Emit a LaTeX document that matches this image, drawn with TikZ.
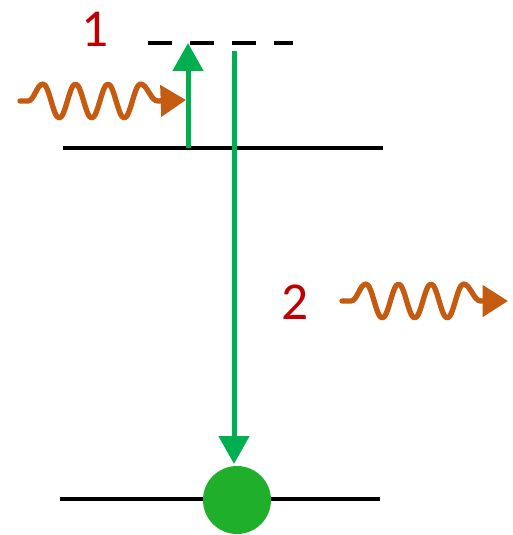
\documentclass[tikz,border=0pt]{standalone}
\usepackage{fontspec}
\setmainfont{Carlito}
\usetikzlibrary{arrows.meta}

\definecolor{levelgreen}{HTML}{00B050}
\definecolor{dotgreen}{HTML}{1FAF2A}
\definecolor{photon}{HTML}{C55A11}
\definecolor{labelred}{HTML}{C00000}

\tikzset{
  level/.style={line width=3pt},
  virtual/.style={line width=3pt, dash pattern=on 17.75pt off 13.75pt},
  transition/.style={levelgreen, line width=3.75pt, -{Triangle[length=21pt,width=22.5pt]}},
  photonwave/.style={photon, line width=4pt, line cap=round, line join=round,
    -{Triangle[length=19pt,width=23pt]}},
  halfwave/.style={out=0, in=180, looseness=0.42},
  quarterwave/.style={out=0, in=180, looseness=0.7},
  steplabel/.style={text=labelred, font=\fontsize{40}{40}\selectfont, inner sep=0pt}
}

\begin{document}
\begin{tikzpicture}[x=0.75pt,y=-0.75pt]
\useasboundingbox (0,0) rectangle (512,535);

        % ===================================================
        % Energy levels
        % ===================================================
        \coordinate (V1) at (148,43);
        \coordinate (V2) at (293,43);
        \coordinate (E1a) at (63,148);
        \coordinate (E1b) at (383,148);
        \coordinate (E0a) at (60,499);
        \coordinate (E0b) at (380,499);
        \draw[virtual] (V1) -- (V2);
        \draw[level] (E1a) -- (E1b);
        \draw[level] (E0a) -- (E0b);

        % ===================================================
        % Transitions
        % ===================================================
        \node[circle, fill=dotgreen, minimum size=51pt, inner sep=0pt] (dot) at (237,500) {};
        \coordinate (upfoot) at (188,148);
        \coordinate (uptip) at (188,43);
        \coordinate (downtop) at (234,51);
        \coordinate (downtip) at (234,464);
        \draw[transition] (upfoot) -- (uptip);
        \draw[transition] (downtop) -- (downtip);

        % ===================================================
        % Photons and labels
        % ===================================================
        \coordinate (in1) at (20,101);
        \coordinate (in2) at (186,100);
        \coordinate (out1) at (342,301);
        \coordinate (out2) at (508,301);
        % incoming photon
        \draw[photonwave] (in1) -- ++(8,0)
            to[quarterwave] ++(15,-17)
            to[halfwave] ++(16.25,34) to[halfwave] ++(16.25,-34)
            to[halfwave] ++(16.25,34) to[halfwave] ++(16.25,-34)
            to[halfwave] ++(16.25,34) to[halfwave] ++(16.25,-34)
            to[quarterwave] ++(17,17) -- (in2);
        % outgoing photon
        \draw[photonwave] (out1) -- ++(9,0)
            to[quarterwave] ++(15,-17)
            to[halfwave] ++(16.25,34) to[halfwave] ++(16.25,-34)
            to[halfwave] ++(16.25,34) to[halfwave] ++(16.25,-34)
            to[halfwave] ++(16.25,34) to[halfwave] ++(16.25,-34)
            to[quarterwave] ++(17,17) -- (out2);

        \node[steplabel] (lab1) at (95,29) {1};
        \node[steplabel] (lab2) at (295,302) {2};

\end{tikzpicture}
\end{document}
